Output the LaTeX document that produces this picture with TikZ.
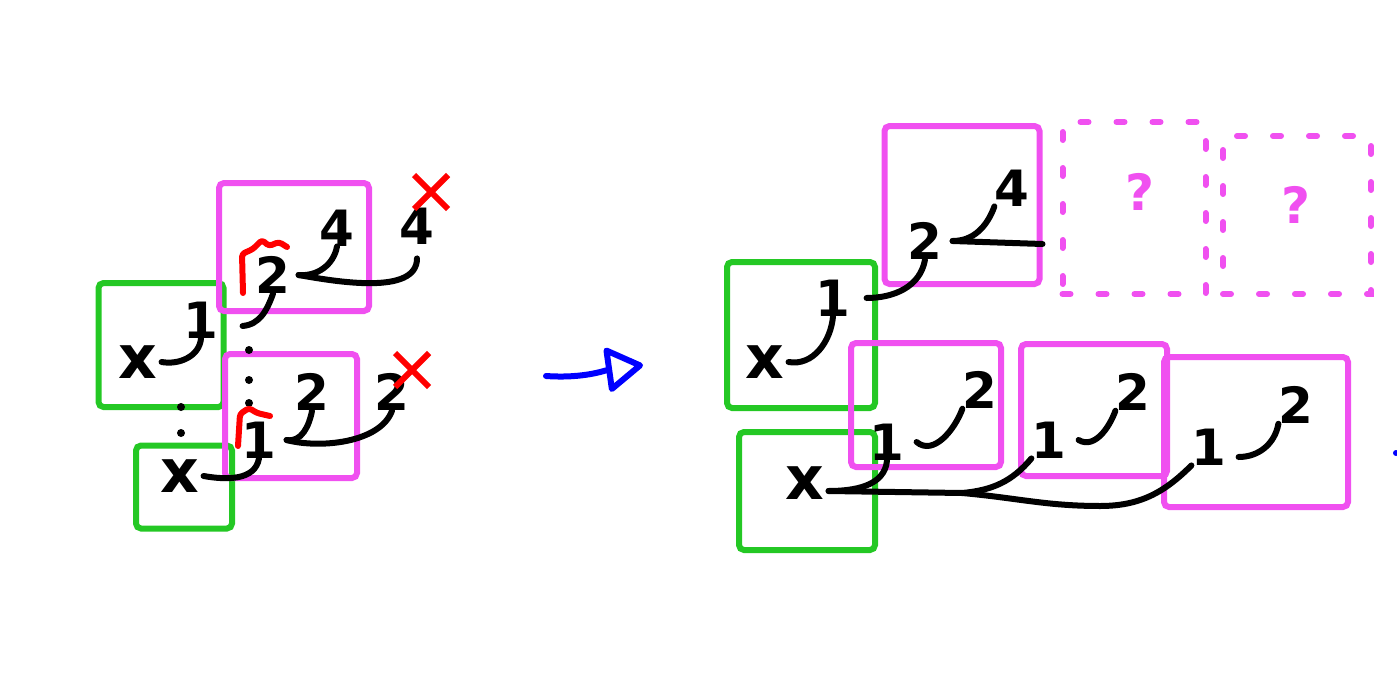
\documentclass[tikz,border=0pt]{standalone}
\usepackage{fontspec}
\setmainfont{DejaVu Sans}
\definecolor{handgreen}{RGB}{36,200,36}
\definecolor{handpink}{RGB}{240,80,240}
\definecolor{handred}{RGB}{255,0,0}
\definecolor{handblue}{RGB}{0,0,255}
\usetikzlibrary{arrows.meta,shapes.misc}

\begin{document}
\begin{tikzpicture}[x=1pt, y=-1pt,
      gbox/.style={draw=handgreen, line width=6pt, rounded corners=5pt},
      pbox/.style={draw=handpink, line width=6pt, rounded corners=5pt},
      qbox/.style={draw=handpink, line width=6pt, line cap=round,
                   dash pattern=on 8pt off 28pt},
      lbl/.style={inner sep=0pt, font=\fontsize{50}{56}\selectfont\bfseries},
      qlbl/.style={lbl, text=handpink},
      xlbl/.style={inner sep=0pt, font=\fontsize{60}{66}\selectfont\bfseries},
      link/.style={draw, line width=6pt, line cap=round},
      kill/.style={cross out, draw=handred, line width=6pt,
                   minimum size=28pt, inner sep=0pt},
      squig/.style={draw=handred, line width=6pt, line cap=round,
                    line join=round, rounded corners=3pt},
      arr/.style={draw=handblue, line width=6pt, line cap=round,
                  -{Triangle[open, length=40pt, width=48pt, line join=round]}}
  ]
    \useasboundingbox (0,0) rectangle (1397,677);

    % before: two chains
    \node[gbox, minimum width=125pt, minimum height=124pt] (boxA) at (161,345) {};
    \node[gbox, minimum width=96pt, minimum height=83pt] (boxB) at (184,487) {};
    \node[pbox, minimum width=150pt, minimum height=128pt] (boxC) at (294,247) {};
    \node[pbox, minimum width=132pt, minimum height=124pt] (boxD) at (291,416) {};

    \node[xlbl] (xA) at (138,362) {x};
    \node[lbl] (oneA) at (201,320) {1};
    \node[lbl] (twoC) at (273,275) {2};
    \node[lbl] (fourC) at (337,228) {4};
    \node[lbl] (fourOut) at (417,226) {4};
    \node[kill] (killFour) at (431,192) {};
    \node[xlbl] (xB) at (180,476) {x};
    \node[lbl] (oneD) at (259,440) {1};
    \node[lbl] (twoD) at (312,392) {2};
    \node[lbl] (twoOut) at (392,392) {2};
    \node[kill] (killTwo) at (412,370) {};

    \draw[link] ([xshift=4pt]xA.east) to[out=-10,in=-95] (oneA.south);
    \draw[link] ([xshift=24pt,yshift=-6pt]oneA.east) to[out=5,in=-110] (twoC.south);
    \draw[link] ([xshift=8pt]twoC.east) to[out=-5,in=-100] (fourC.south);
    \draw[link] ([xshift=8pt]twoC.east) to[out=-10,in=-90,looseness=0.8] ([yshift=-14pt]fourOut.south);
    \draw[link] ([xshift=4pt]xB.east) to[out=-10,in=-100] (oneD.south);
    \draw[link] ([xshift=10pt]oneD.east) to[out=-10,in=-100] (twoD.south);
    \draw[link] ([xshift=10pt]oneD.east) to[out=-15,in=-110,looseness=0.8] (twoOut.south);

    \foreach \y in {350,380,403} \fill (249,\y) circle (4pt);
    \foreach \y in {407,433} \fill (181,\y) circle (4pt);

    \draw[squig] (243,293) -- (242,254) -- (253,249) -- (262,240) -- (269,246) -- (279,242) -- (287,247);
    \draw[squig] (238,446) -- (240,414) -- (249,408) -- (257,413) -- (270,416);

    % arrow
    \coordinate (arrS) at (546,376);
    \coordinate (arrE) at (643,365);
    \draw[arr] (arrS) to[out=-4,in=188] (arrE);

    % after: one chain shared by both x
    \node[gbox, minimum width=148pt, minimum height=146pt] (boxH) at (801,335) {};
    \node[pbox, minimum width=155pt, minimum height=158pt] (boxE) at (962,205) {};
    \node[qbox, minimum width=143pt, minimum height=172pt] (boxF) at (1134,208) {};
    \node[qbox, minimum width=148pt, minimum height=158pt] (boxG) at (1297,215) {};
    \node[gbox, minimum width=136pt, minimum height=118pt] (boxI) at (807,491) {};
    \node[pbox, minimum width=150pt, minimum height=124pt] (boxJ) at (926,405) {};
    \node[pbox, minimum width=146pt, minimum height=132pt] (boxK) at (1094,410) {};
    \node[pbox, minimum width=184pt, minimum height=150pt] (boxL) at (1256,432) {};

    \node[lbl] (fourE) at (1012,188) {4};
    \node[lbl] (twoE) at (925,241) {2};
    \node[qlbl] (qF) at (1140,192) {?};
    \node[qlbl] (qG) at (1296,205) {?};
    \node[xlbl] (xH) at (765,362) {x};
    \node[lbl] (oneH) at (833,298) {1};
    \node[xlbl] (xI) at (805,483) {x};
    \node[lbl] (oneJ) at (887,442) {1};
    \node[lbl] (twoJ) at (980,390) {2};
    \node[lbl] (oneK) at (1049,440) {1};
    \node[lbl] (twoK) at (1133,392) {2};
    \node[lbl] (oneL) at (1209,447) {1};
    \node[lbl] (twoL) at (1296,405) {2};

    \coordinate (fork) at (962,493);
    \coordinate (dip) at (1100,506);

    \draw[link] ([xshift=4pt]xH.east) to[out=-10,in=-95] (oneH.south);
    \draw[link] ([xshift=16pt]oneH.east) to[out=0,in=-100] (twoE.south);
    \draw[link] ([xshift=10pt]twoE.east) to[out=0,in=-110] (fourE.south west);
    \draw[link] ([xshift=10pt]twoE.east) -- ([yshift=-3pt]twoE -| boxE.east);
    \draw[link] ([xshift=4pt,yshift=-8pt]xI.east) to[out=0,in=-95] (oneJ.south);
    \draw[link] ([xshift=4pt,yshift=-8pt]xI.east) -- (fork) to[out=5,in=-130] (oneK.south west);
    \draw[link] (fork) to[out=-5,in=180] (dip) to[out=0,in=-135] (oneL.south west);
    \draw[link] ([xshift=12pt]oneJ.east) to[out=-40,in=-110] (twoJ.south west);
    \draw[link] ([xshift=12pt]oneK.east) to[out=-30,in=-110] (twoK.south west);
    \draw[link] ([xshift=12pt,yshift=-10pt]oneL.east) to[out=0,in=-100] (twoL.south west);

    \fill[handblue] (1396,453) circle (3pt);
  \end{tikzpicture}
\end{document}
